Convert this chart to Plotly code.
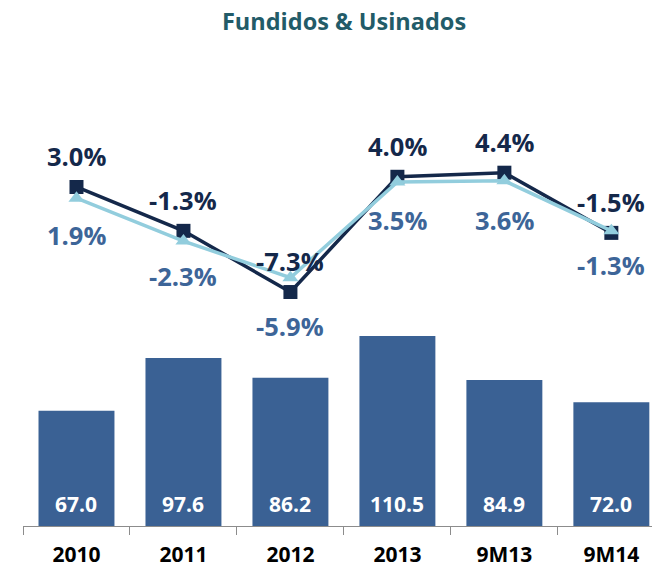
import plotly.graph_objects as go

categories = ["2010", "2011", "2012", "2013", "9M13", "9M14"]
volumes = [67.0, 97.6, 86.2, 110.5, 84.9, 72.0]
growth_dark = [3.0, -1.3, -7.3, 4.0, 4.4, -1.5]
growth_light = [1.9, -2.3, -5.9, 3.5, 3.6, -1.3]

BAR = "#3A6194"
NAVY = "#14284A"
LIGHT = "#92CDDD"
LABEL_LIGHT = "#3D6598"
TITLE = "#225B68"
FONT = "Open Sans"

fig = go.Figure()
fig.add_trace(go.Bar(
    x=categories, y=volumes, marker=dict(color=BAR, line=dict(width=0)),
    width=0.71, hoverinfo="skip", yaxis="y",
))
fig.add_trace(go.Scatter(
    x=categories, y=growth_dark, mode="lines+markers", yaxis="y2",
    line=dict(color=NAVY, width=3.5),
    marker=dict(symbol="square", size=14, color=NAVY),
    hoverinfo="skip",
))
fig.add_trace(go.Scatter(
    x=categories, y=growth_light, mode="lines+markers", yaxis="y2",
    line=dict(color=LIGHT, width=3.5),
    marker=dict(symbol="triangle-up", size=14, color=LIGHT),
    hoverinfo="skip",
))

annotations = []
for i, v in enumerate(volumes):
    annotations.append(dict(
        x=i, y=0, xref="x", yref="y", text=f"{v:.1f}", showarrow=False,
        yanchor="middle", yshift=22,
        font=dict(family=FONT, size=21, color="white", weight="bold"),
    ))
for i, v in enumerate(growth_dark):
    annotations.append(dict(
        x=i, y=v, xref="x", yref="y2", text=f"{v:.1f}%", showarrow=False,
        yshift=31, font=dict(family=FONT, size=25.5, color=NAVY, weight="bold"),
    ))
light_shift = [-37, -35, -48, -38, -39, -34]
for i, (v, s) in enumerate(zip(growth_light, light_shift)):
    annotations.append(dict(
        x=i, y=v, xref="x", yref="y2", text=f"{v:.1f}%", showarrow=False,
        yshift=s, font=dict(family=FONT, size=25.5, color=LABEL_LIGHT, weight="bold"),
    ))

fig.update_layout(
    width=652, height=569,
    margin=dict(l=23, r=0, t=60, b=43),
    paper_bgcolor="white", plot_bgcolor="white",
    showlegend=False,
    title=dict(text="Fundidos & Usinados", x=344 / 652, xanchor="center",
               y=1 - 22 / 569, yanchor="middle",
               font=dict(family=FONT, size=23.5, color=TITLE, weight="bold")),
    xaxis=dict(type="category", range=[-0.5, 5.38], tickson="boundaries",
               ticks="outside", ticklen=8, tickcolor="#8C8C8C", tickwidth=1,
               showline=True, linecolor="#8C8C8C", linewidth=1,
               showgrid=False, ticklabelstandoff=10, automargin=False,
               tickfont=dict(family=FONT, size=21, color="black", weight="bold")),
    yaxis=dict(range=[0, 270.9], visible=False, showgrid=False, automargin=False),
    yaxis2=dict(range=[-30.24, 15.45], overlaying="y", visible=False, showgrid=False,
                automargin=False),
    annotations=annotations,
)

fig.write_html("out.html", config={"displayModeBar": False},
               post_script="document.body.style.margin='0';")
